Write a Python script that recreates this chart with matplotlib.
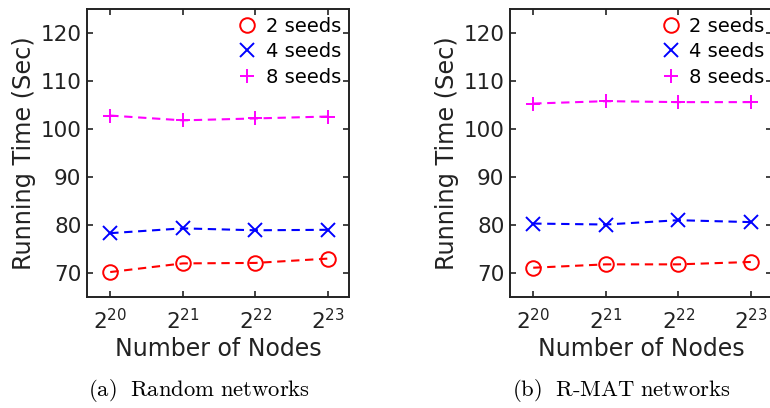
import matplotlib.pyplot as plt
from matplotlib.lines import Line2D

plt.rcParams['font.family'] = ['DejaVu Sans']
plt.rcParams['mathtext.fontset'] = 'dejavusans'

# data
nodes = ['$2^{20}$', '$2^{21}$', '$2^{22}$', '$2^{23}$']
series_names = ['2 seeds', '4 seeds', '8 seeds']

random_2 = [70.2, 72.0, 72.1, 73.0]
random_4 = [78.3, 79.3, 78.9, 79.0]
random_8 = [102.8, 101.8, 102.2, 102.6]

rmat_2 = [71.1, 71.8, 71.8, 72.3]
rmat_4 = [80.3, 80.1, 81.0, 80.6]
rmat_8 = [105.3, 105.8, 105.6, 105.6]

captions = [r'$\mathrm{(a)\ \ Random\ networks}$', r'$\mathrm{(b)\ \ R\text{-}MAT\ networks}$']

styles = [('#ff0000', 'o'), ('#0000ff', 'x'), ('#ff00ff', '+')]
ink = '#222222'

fig = plt.figure(figsize=(7.7, 4.08), dpi=100)
ax1 = fig.add_axes([87 / 770, 111 / 408, 262 / 770, 288 / 408])
ax2 = fig.add_axes([510 / 770, 111 / 408, 262 / 770, 288 / 408])

panels = [(ax1, [random_2, random_4, random_8]), (ax2, [rmat_2, rmat_4, rmat_8])]
x = range(len(nodes))

for ax, data in panels:
    handles = []
    for vals, name, (c, m) in zip(data, series_names, styles):
        ax.plot(x, vals, linestyle='--', dashes=(4, 2.7), color=c, lw=1.5,
                marker=m, markersize=10.5, markerfacecolor='none',
                markeredgewidth=1.4)
        # legend in the original shows only the marker
        handles.append(Line2D([], [], linestyle='none', color=c, marker=m,
                              markersize=10.5, markerfacecolor='none',
                              markeredgewidth=1.4, label=name))
    ax.set_xlim(-0.32, 3.29)
    ax.set_ylim(65, 125)
    ax.set_xticks(list(x))
    ax.set_xticklabels(nodes)
    ax.set_yticks([70, 80, 90, 100, 110, 120])
    ax.tick_params(direction='in', length=4, width=1.2, top=True, right=True,
                   labelsize=15.5, colors=ink, pad=4)
    ax.tick_params(axis='x', labelsize=15.5, pad=8)
    for s in ax.spines.values():
        s.set_linewidth(1.4)
        s.set_color(ink)
    ax.set_xlabel('Number of Nodes', fontsize=17, color=ink, labelpad=3)
    ax.set_ylabel('Running Time (Sec)', fontsize=17.3, color=ink, labelpad=3)
    ax.legend(handles=handles, loc='upper right', frameon=False, fontsize=14,
              handlelength=0.9, handletextpad=0.5, labelspacing=0.33,
              borderaxespad=0.1, borderpad=0.3)

fig.text(199 / 770, 1 - 391 / 408, captions[0], ha='center', va='center',
         fontsize=16.3, math_fontfamily='cm')
fig.text(621 / 770, 1 - 391 / 408, captions[1], ha='center', va='center',
         fontsize=16.3, math_fontfamily='cm')

fig.savefig('out.png', dpi=100)
